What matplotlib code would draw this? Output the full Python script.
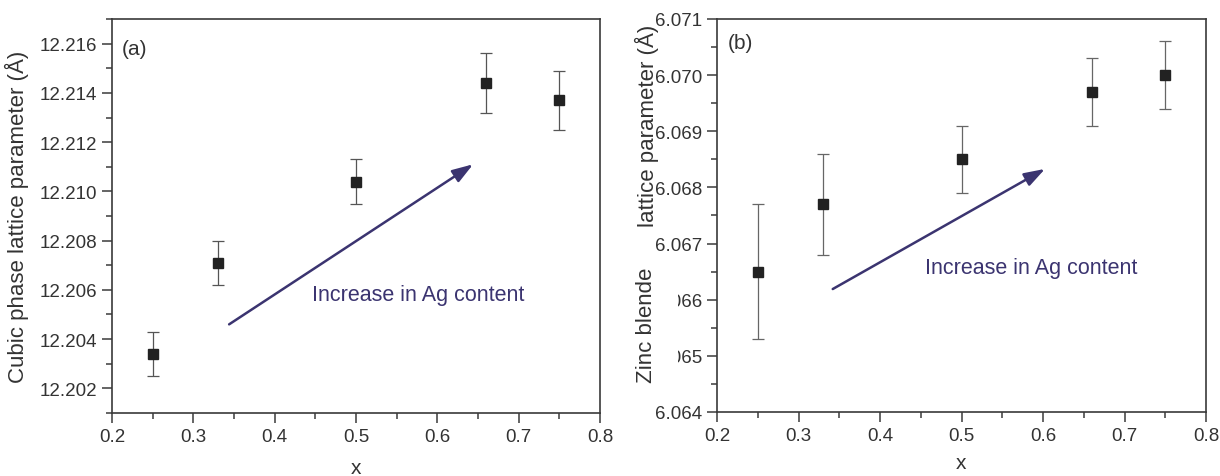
import matplotlib
matplotlib.use("Agg")
from matplotlib import pyplot as plt
from matplotlib.ticker import MultipleLocator, FormatStrFormatter
from matplotlib.patches import Rectangle

plt.rcParams['font.family'] = ['Liberation Sans', 'DejaVu Sans']

# Ag fraction
x_vals = [0.25, 0.33, 0.50, 0.66, 0.75]

# cubic phase lattice parameter (A) and error
cubic_a = [12.2034, 12.2071, 12.2104, 12.2144, 12.2137]
cubic_err = [0.0009, 0.0009, 0.0009, 0.0012, 0.0012]

# zinc blende lattice parameter (A) and error
zb_a = [6.0665, 6.0677, 6.0685, 6.0697, 6.0700]
zb_err = [0.0012, 0.0009, 0.0006, 0.0006, 0.0006]

arrow_color = '#3b3470'
axis_color = '#3a3a3a'
text_color = '#333333'

fig = plt.figure(figsize=(12.2, 4.77), dpi=100)
ax1 = fig.add_axes([112/1220, 63/477, 488/1220, 394/477])
ax2 = fig.add_axes([717/1220, 64/477, 489/1220, 393/477])


def style_axes(ax, xpad):
    for s in ax.spines.values():
        s.set_color(axis_color)
        s.set_linewidth(1.2)
    ax.tick_params(which='both', direction='out', colors=axis_color,
                   labelcolor=text_color, labelsize=13.5, width=1.1)
    ax.tick_params(which='major', length=7)
    ax.tick_params(which='minor', length=4)
    ax.set_xlim(0.2, 0.8)
    ax.xaxis.set_major_locator(MultipleLocator(0.1))
    ax.xaxis.set_minor_locator(MultipleLocator(0.05))
    ax.set_xlabel('x', fontsize=15, color=text_color, labelpad=xpad)


arrow_props = dict(arrowstyle='-|>,head_length=0.9,head_width=0.3', color=arrow_color,
                   lw=1.8, mutation_scale=14, shrinkA=0, shrinkB=0)

# (a) cubic phase
ax1.errorbar(x_vals, cubic_a, yerr=cubic_err, fmt='s', color='#222222',
             markersize=7, ecolor='#555555', elinewidth=0.9, capsize=4, capthick=0.9)
style_axes(ax1, 10)
ax1.set_ylim(12.201, 12.217)
ax1.yaxis.set_major_locator(MultipleLocator(0.002))
ax1.yaxis.set_minor_locator(MultipleLocator(0.001))
ax1.yaxis.set_major_formatter(FormatStrFormatter('%.3f'))
ax1.set_ylabel('Cubic phase lattice parameter (Å)', fontsize=16, color=text_color, labelpad=8)
ax1.text(0.02, 0.95, '(a)', transform=ax1.transAxes, fontsize=15, color=text_color, va='top')
ax1.annotate('', xy=(0.644, 12.2111), xytext=(0.344, 12.2046), arrowprops=arrow_props)
ax1.text(0.446, 12.2058, 'Increase in Ag content', fontsize=15.5, color=arrow_color, va='center')

# (b) zinc blende
ax2.errorbar(x_vals, zb_a, yerr=zb_err, fmt='s', color='#222222',
             markersize=7, ecolor='#666666', elinewidth=0.9, capsize=4, capthick=0.9)
style_axes(ax2, 7)
ax2.set_ylim(6.064, 6.071)
ax2.yaxis.set_major_locator(MultipleLocator(0.001))
ax2.yaxis.set_minor_locator(MultipleLocator(0.0005))
ax2.yaxis.set_major_formatter(FormatStrFormatter('%.3f'))
ax2.text(0.022, 0.965, '(b)', transform=ax2.transAxes, fontsize=15, color=text_color, va='top')
ax2.annotate('', xy=(0.6025, 6.06833), xytext=(0.342, 6.06619), arrowprops=arrow_props)
ax2.text(0.455, 6.06658, 'Increase in Ag content', fontsize=15.5, color=arrow_color, va='center')

# y label of (b) in two pieces; a white patch sits over part of the tick labels
fig.patches.append(Rectangle((626/1220, 1 - 378/477), 52/1220, 125/477,
                             transform=fig.transFigure, fc='white', ec='none', zorder=5))
fig.text(647/1220, 1 - 126/477, 'lattice parameter (Å)', rotation=90, fontsize=16,
         color=text_color, ha='center', va='center')
fig.text(647/1220, 1 - 325/477, 'Zinc blende', rotation=90, fontsize=16,
         color=text_color, ha='center', va='center', zorder=6)

fig.savefig('out.png', dpi=100)
